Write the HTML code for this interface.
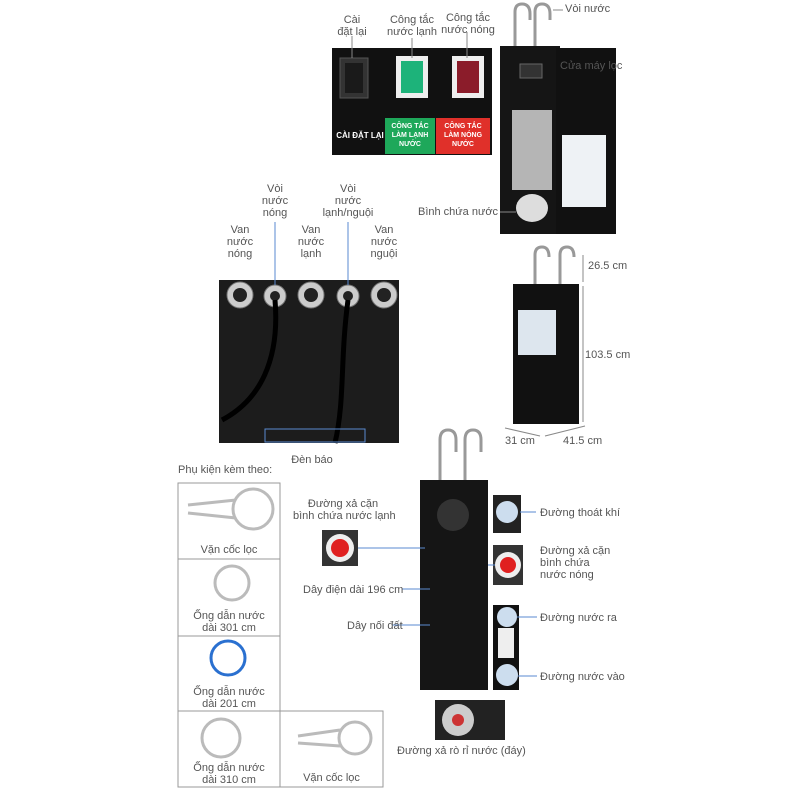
<!DOCTYPE html><html><head><meta charset="utf-8"><style>
body{margin:0;width:800px;height:800px;background:#fff;position:relative;overflow:hidden;font-family:"Liberation Sans",sans-serif;color:#555}
.t{position:absolute;font-size:11px;line-height:12px;text-align:center;white-space:nowrap}
.l{text-align:left}
</style></head><body>
<svg width="800" height="800" style="position:absolute;left:0;top:0">
<!-- top switch panel -->
<rect x="332" y="48" width="160" height="107" fill="#111"/>
<rect x="340" y="58" width="28" height="40" fill="#333" stroke="#555"/>
<rect x="345" y="63" width="18" height="30" fill="#1a1a1a"/>
<rect x="396" y="56" width="32" height="42" fill="#eee"/>
<rect x="401" y="61" width="22" height="32" fill="#1db37a"/>
<rect x="452" y="56" width="32" height="42" fill="#eee"/>
<rect x="457" y="61" width="22" height="32" fill="#8b1c2a"/>
<rect x="385" y="118" width="50" height="36" fill="#1ea85a"/>
<rect x="436" y="118" width="54" height="36" fill="#e0302a"/>
<line x1="352" y1="36" x2="352" y2="58" stroke="#888"/>
<line x1="412" y1="38" x2="412" y2="58" stroke="#888"/>
<line x1="467" y1="32" x2="467" y2="58" stroke="#888"/>
<!-- open machine -->
<path d="M515 48 V12 Q515 4 522 4 Q530 4 530 14 V20 M535 48 V12 Q535 4 542 4 Q550 4 550 14 V20" stroke="#999" stroke-width="3" fill="none"/>
<rect x="500" y="46" width="60" height="188" fill="#151515"/>
<rect x="556" y="48" width="60" height="186" fill="#111"/>
<rect x="562" y="135" width="44" height="72" fill="#eef2f5"/>
<rect x="512" y="110" width="40" height="80" fill="#ddd" opacity=".8"/>
<ellipse cx="532" cy="208" rx="16" ry="14" fill="#ddd"/>
<rect x="520" y="64" width="22" height="14" fill="#333" stroke="#666"/>
<line x1="500" y1="212" x2="516" y2="212" stroke="#888"/>
<line x1="553" y1="10" x2="563" y2="10" stroke="#888"/>
<!-- middle panel -->
<rect x="219" y="280" width="180" height="163" fill="#1c1c1c"/>
<g fill="#ccc" stroke="#777">
<circle cx="240" cy="295" r="13"/><circle cx="275" cy="296" r="11"/><circle cx="311" cy="295" r="13"/><circle cx="348" cy="296" r="11"/><circle cx="384" cy="295" r="13"/></g>
<g fill="#222"><circle cx="240" cy="295" r="7"/><circle cx="311" cy="295" r="7"/><circle cx="384" cy="295" r="7"/><circle cx="275" cy="296" r="5"/><circle cx="348" cy="296" r="5"/></g>
<path d="M275 300 C280 360 260 400 222 420 M348 300 C340 360 345 400 335 443" stroke="#000" stroke-width="5" fill="none"/>
<line x1="275" y1="222" x2="275" y2="285" stroke="#5a8ad0"/>
<line x1="348" y1="222" x2="348" y2="285" stroke="#5a8ad0"/>
<rect x="265" y="429" width="100" height="13" fill="none" stroke="#5a8ad0"/>
<!-- machine closed -->
<path d="M535 285 V255 Q535 247 542 247 Q549 247 549 257 M560 285 V255 Q560 247 567 247 Q574 247 574 257" stroke="#999" stroke-width="3" fill="none"/>
<rect x="513" y="284" width="66" height="140" fill="#111"/>
<rect x="518" y="310" width="38" height="45" fill="#dde6ee"/>
<line x1="583" y1="255" x2="583" y2="282" stroke="#888"/><line x1="583" y1="286" x2="583" y2="422" stroke="#888"/>
<line x1="505" y1="428" x2="540" y2="436" stroke="#888"/><line x1="545" y1="436" x2="585" y2="426" stroke="#888"/>
<!-- accessories -->
<g fill="none" stroke="#999">
<rect x="178" y="483" width="102" height="76"/><rect x="178" y="559" width="102" height="77"/><rect x="178" y="636" width="102" height="75"/><rect x="178" y="711" width="102" height="76"/><rect x="280" y="711" width="103" height="76"/></g>
<g fill="none" stroke="#bbb" stroke-width="3"><circle cx="253" cy="509" r="20"/><path d="M188 505 L236 500 M188 513 L236 518"/><circle cx="232" cy="583" r="17"/><circle cx="221" cy="738" r="19"/><circle cx="355" cy="738" r="16"/><path d="M298 736 L340 730 M298 743 L340 746"/></g>
<circle cx="228" cy="658" r="17" fill="none" stroke="#2a70d0" stroke-width="3"/>
<!-- back machine -->
<path d="M440 480 V440 Q440 430 448 430 Q456 430 456 440 V452 M465 480 V440 Q465 430 473 430 Q481 430 481 440 V452" stroke="#999" stroke-width="3" fill="none"/>
<rect x="420" y="480" width="68" height="210" fill="#151515"/>
<circle cx="453" cy="515" r="16" fill="#333"/>
<rect x="493" y="605" width="26" height="85" fill="#111"/>
<rect x="498" y="628" width="16" height="30" fill="#eee"/>
<rect x="435" y="700" width="70" height="40" fill="#222"/>
<circle cx="458" cy="720" r="16" fill="#ccc"/><circle cx="458" cy="720" r="6" fill="#c33"/>
<rect x="322" y="530" width="36" height="36" fill="#333"/><circle cx="340" cy="548" r="14" fill="#eee"/><circle cx="340" cy="548" r="9" fill="#e02020"/>
<rect x="493" y="545" width="30" height="40" fill="#333"/><circle cx="508" cy="565" r="13" fill="#eee"/><circle cx="508" cy="565" r="8" fill="#e02020"/>
<rect x="493" y="495" width="28" height="38" fill="#222"/><circle cx="507" cy="512" r="11" fill="#cde"/>
<circle cx="507" cy="617" r="10" fill="#cde"/><circle cx="507" cy="675" r="11" fill="#cde"/>
<g stroke="#5a8ad0"><line x1="358" y1="548" x2="425" y2="548"/><line x1="520" y1="512" x2="536" y2="512"/><line x1="488" y1="565" x2="495" y2="565"/><line x1="517" y1="617" x2="537" y2="617"/><line x1="518" y1="676" x2="537" y2="676"/><line x1="402" y1="589" x2="430" y2="589"/><line x1="392" y1="625" x2="430" y2="625"/></g>
</svg>
<div class="t" style="left:335px;top:14px;width:34px">Cài<br>đặt lại</div>
<div class="t" style="left:382px;top:14px;width:60px">Công tắc<br>nước lạnh</div>
<div class="t" style="left:440px;top:12px;width:56px">Công tắc<br>nước nóng</div>
<div class="t" style="left:334px;top:130px;width:52px;color:#fff;font-size:8px;font-weight:bold">CÀI ĐẶT LẠI</div>
<div class="t" style="left:385px;top:122px;width:50px;color:#fff;font-size:7px;line-height:9px;font-weight:bold">CÔNG TẮC<br>LÀM LẠNH<br>NƯỚC</div>
<div class="t" style="left:436px;top:122px;width:54px;color:#fff;font-size:7px;line-height:9px;font-weight:bold">CÔNG TẮC<br>LÀM NÓNG<br>NƯỚC</div>
<div class="t l" style="left:565px;top:3px">Vòi nước</div>
<div class="t l" style="left:560px;top:60px">Cửa máy lọc</div>
<div class="t l" style="left:418px;top:206px">Bình chứa nước</div>
<div class="t" style="left:218px;top:224px;width:44px">Van<br>nước<br>nóng</div>
<div class="t" style="left:255px;top:183px;width:40px">Vòi<br>nước<br>nóng</div>
<div class="t" style="left:290px;top:224px;width:42px">Van<br>nước<br>lạnh</div>
<div class="t" style="left:318px;top:183px;width:60px">Vòi<br>nước<br>lạnh/nguội</div>
<div class="t" style="left:362px;top:224px;width:44px">Van<br>nước<br>nguội</div>
<div class="t" style="left:290px;top:454px;width:44px">Đèn báo</div>
<div class="t l" style="left:588px;top:260px">26.5 cm</div>
<div class="t l" style="left:585px;top:349px">103.5 cm</div>
<div class="t l" style="left:505px;top:435px">31 cm</div>
<div class="t l" style="left:563px;top:435px">41.5 cm</div>
<div class="t l" style="left:178px;top:464px">Phụ kiện kèm theo:</div>
<div class="t" style="left:178px;top:544px;width:102px">Vặn cốc lọc</div>
<div class="t" style="left:178px;top:610px;width:102px">Ống dẫn nước<br>dài 301 cm</div>
<div class="t" style="left:178px;top:686px;width:102px">Ống dẫn nước<br>dài 201 cm</div>
<div class="t" style="left:178px;top:762px;width:102px">Ống dẫn nước<br>dài 310 cm</div>
<div class="t" style="left:280px;top:772px;width:103px">Vặn cốc lọc</div>
<div class="t" style="left:293px;top:498px;width:100px">Đường xả cặn<br>bình chứa nước lạnh</div>
<div class="t l" style="left:303px;top:584px">Dây điện dài 196 cm</div>
<div class="t l" style="left:347px;top:620px">Dây nối đất</div>
<div class="t l" style="left:540px;top:507px">Đường thoát khí</div>
<div class="t l" style="left:540px;top:545px">Đường xả cặn<br>bình chứa<br>nước nóng</div>
<div class="t l" style="left:540px;top:612px">Đường nước ra</div>
<div class="t l" style="left:540px;top:671px">Đường nước vào</div>
<div class="t l" style="left:397px;top:745px">Đường xả rò rỉ nước (đáy)</div>
</body></html>
